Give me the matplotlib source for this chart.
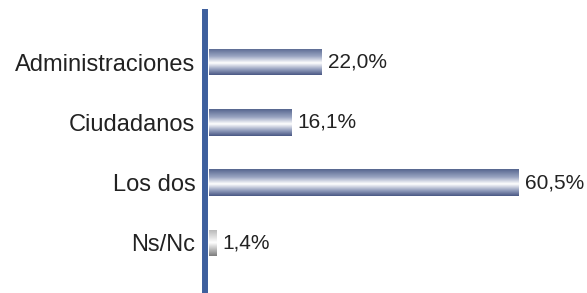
import numpy as np
import matplotlib
matplotlib.use("Agg")
import matplotlib.pyplot as plt
from matplotlib.colors import LinearSegmentedColormap

# data
categories = ["Administraciones", "Ciudadanos", "Los dos", "Ns/Nc"]
values = [22.0, 16.1, 60.5, 1.4]
value_labels = ["22,0%", "16,1%", "60,5%", "1,4%"]

plt.rcParams['font.family'] = ['Liberation Sans', 'DejaVu Sans']

blue_grad = LinearSegmentedColormap.from_list(
    "bluebar", [(0.0, "#56668f"), (0.3, "#9aa5c2"), (0.55, "#ffffff"),
                (0.8, "#909bbb"), (1.0, "#4a5884")])
gray_grad = LinearSegmentedColormap.from_list(
    "graybar", [(0.0, "#b4b4b4"), (0.5, "#ffffff"), (1.0, "#7c7c7c")])

fig = plt.figure(figsize=(5.87, 2.93), dpi=100)
ax = fig.add_axes([208.5 / 587, 2 / 293, 378.5 / 587, 279 / 293])

ypos = np.arange(len(categories))
bars = ax.barh(ypos, values, height=0.44, color="none", edgecolor="none")

grad = np.linspace(0, 1, 200).reshape(-1, 1)
for i, bar in enumerate(bars):
    x0, y0 = bar.get_x(), bar.get_y()
    w, h = bar.get_width(), bar.get_height()
    cmap = gray_grad if categories[i] == "Ns/Nc" else blue_grad
    im = ax.imshow(grad, extent=[x0, x0 + w, y0 + h, y0], origin="upper",
                   aspect="auto", cmap=cmap, interpolation="bilinear", zorder=2)
    im.set_clip_path(bar)
    ax.annotate(value_labels[i], (x0 + w, y0 + h / 2), xytext=(5, 0),
                textcoords="offset points", va="center", ha="left",
                fontsize=15, color="#222222")

ax.set_xlim(0, 74)
ax.set_ylim(3.80, -0.83)
ax.set_yticks(ypos)
ax.set_yticklabels(categories)
ax.tick_params(axis="y", length=0, pad=7, labelsize=17, labelcolor="#222222")
ax.set_xticks([])

for side in ["top", "right", "bottom"]:
    ax.spines[side].set_visible(False)
ax.spines["left"].set_color("#3d5f9d")
ax.spines["left"].set_linewidth(4.3)
ax.spines["left"].set_position(("outward", 2.5))

fig.savefig("out.png", dpi=100)
